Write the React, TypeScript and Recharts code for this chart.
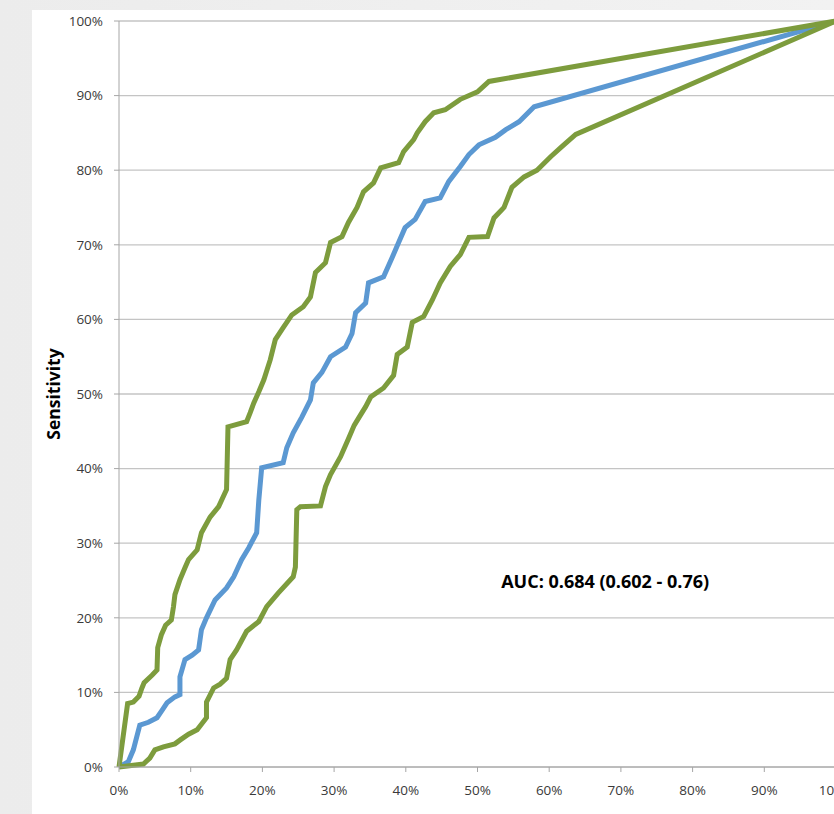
import { LineChart, Line, XAxis, YAxis, CartesianGrid, ReferenceDot } from "recharts"

// 1 - specificity (%) and sensitivity (%)
const upperFpr = [0, 1.2, 2.0, 2.8, 3.2, 3.5, 4.6, 5.3, 5.4, 5.9, 6.5, 7.3, 7.6, 7.8, 8.5, 9.2, 9.7, 10.9, 11.5, 12.7, 13.9, 15.0, 15.2, 17.8, 18.3, 18.8, 19.5, 20.2, 21.1, 21.8, 22.9, 24.1, 25.7, 26.7, 27.4, 28.8, 29.5, 31.1, 32.0, 33.2, 34.1, 35.5, 36.5, 39.0, 39.7, 41.1, 41.6, 42.7, 43.9, 45.5, 47.6, 50.0, 51.6, 100]
const upperTpr = [0, 8.5, 8.7, 9.5, 10.6, 11.3, 12.3, 13.0, 16.0, 17.7, 19.0, 19.7, 21.5, 23.1, 25.1, 26.7, 27.8, 29.1, 31.4, 33.5, 34.9, 37.2, 45.6, 46.3, 47.5, 48.8, 50.3, 51.9, 54.6, 57.3, 58.9, 60.6, 61.7, 63.0, 66.3, 67.6, 70.3, 71.1, 73.0, 75.0, 77.1, 78.3, 80.3, 81.0, 82.5, 84.1, 85.0, 86.5, 87.7, 88.1, 89.5, 90.5, 91.9, 100]

const rocFpr = [0, 1.3, 2.0, 2.9, 4.1, 5.3, 6.0, 6.7, 7.8, 8.5, 8.5, 9.2, 10.2, 11.1, 11.5, 12.2, 13.4, 15.0, 16.0, 17.1, 18.1, 19.2, 19.5, 19.9, 22.9, 23.4, 24.3, 25.5, 26.7, 27.1, 28.3, 29.5, 31.6, 32.5, 33.0, 34.4, 34.8, 36.9, 38.1, 39.0, 39.9, 41.3, 42.7, 44.8, 46.0, 47.6, 48.8, 50.2, 52.5, 53.9, 55.8, 57.9, 100]
const rocTpr = [0, 0.7, 2.3, 5.6, 6.0, 6.6, 7.6, 8.6, 9.4, 9.7, 12.1, 14.4, 15.0, 15.7, 18.4, 20.0, 22.4, 24.0, 25.5, 27.8, 29.4, 31.4, 35.8, 40.1, 40.8, 42.8, 44.8, 46.9, 49.2, 51.5, 52.9, 55.0, 56.3, 58.1, 60.9, 62.2, 64.9, 65.7, 68.3, 70.3, 72.3, 73.4, 75.8, 76.3, 78.5, 80.5, 82.1, 83.4, 84.4, 85.4, 86.5, 88.5, 100]

const lowerFpr = [0, 3.4, 4.3, 5.0, 6.2, 7.8, 8.5, 9.7, 10.9, 12.2, 12.2, 13.2, 14.1, 15.0, 15.5, 16.4, 17.8, 19.5, 20.6, 22.2, 24.3, 24.6, 24.8, 25.3, 28.1, 28.8, 29.5, 30.9, 32.0, 32.8, 33.5, 34.4, 35.1, 36.9, 38.3, 38.8, 40.2, 40.9, 42.5, 43.7, 44.8, 46.2, 47.6, 48.8, 51.4, 52.3, 53.7, 54.8, 56.5, 58.3, 60.2, 61.8, 63.7, 100]
const lowerTpr = [0, 0.4, 1.2, 2.3, 2.7, 3.1, 3.6, 4.4, 5.0, 6.6, 8.7, 10.6, 11.1, 11.9, 14.4, 15.7, 18.2, 19.5, 21.5, 23.3, 25.5, 26.8, 34.5, 34.9, 35.0, 37.6, 39.2, 41.6, 44.0, 45.8, 46.9, 48.3, 49.6, 50.8, 52.5, 55.3, 56.3, 59.6, 60.4, 62.6, 64.9, 67.1, 68.7, 71.0, 71.1, 73.6, 75.0, 77.7, 79.1, 80.0, 81.8, 83.2, 84.8, 100]

const pctTicks = [0, 10, 20, 30, 40, 50, 60, 70, 80, 90, 100]
const aucText = "AUC: 0.684 (0.602 - 0.76)"

const toPoints = (xs: number[], ys: number[]) => xs.map((x, i) => ({ x, y: ys[i] }))

const upper = toPoints(upperFpr, upperTpr)
const roc = toPoints(rocFpr, rocTpr)
const lower = toPoints(lowerFpr, lowerTpr)

const font = "'Open Sans', 'Liberation Sans', sans-serif"
const tickStyle = { fill: "#3a3a3a", fontSize: 13.5, fontFamily: font }

export default function App() {
  return (
    <div
      style={{
        position: "fixed",
        left: 0,
        top: 0,
        width: 834,
        height: 814,
        overflow: "hidden",
        background: "linear-gradient(to right, #ececec, #f2f2f2)",
      }}
    >
      {/* white slide panel behind the chart */}
      <div style={{ position: "absolute", left: 32, top: 10, width: 810, height: 810, background: "#ffffff" }} />
      <div style={{ position: "absolute", left: 0, top: 0 }}>
        <LineChart width={860} height={830} margin={{ top: 21, right: 24, left: 0, bottom: 0 }}>
          <CartesianGrid vertical={false} stroke="#c4c4c4" strokeWidth={1.3} />
          <XAxis
            type="number"
            dataKey="x"
            domain={[0, 100]}
            ticks={pctTicks}
            tickFormatter={(v) => `${v}%`}
            tick={tickStyle}
            tickSize={5}
            tickMargin={13}
            height={63}
            stroke="#a6a6a6"
            label={{
              value: "1 - Specificity",
              position: "insideBottom",
              offset: 3,
              fill: "#000",
              fontSize: 16,
              fontWeight: 700,
              fontFamily: font,
            }}
          />
          <YAxis
            type="number"
            dataKey="y"
            domain={[0, 100]}
            ticks={pctTicks}
            tickFormatter={(v) => `${v}%`}
            tick={tickStyle}
            tickSize={5}
            tickMargin={11}
            width={119}
            stroke="#a6a6a6"
            label={{
              value: "Sensitivity",
              angle: -90,
              position: "insideLeft",
              offset: 54,
              fill: "#000",
              fontSize: 17.5,
              fontWeight: 700,
              fontFamily: font,
              style: { textAnchor: "middle" },
            }}
          />
          <Line data={roc} dataKey="y" type="linear" stroke="#5b98d2" strokeWidth={5} dot={false} isAnimationActive={false} />
          <Line data={upper} dataKey="y" type="linear" stroke="#7d9c3d" strokeWidth={5} dot={false} isAnimationActive={false} />
          <Line data={lower} dataKey="y" type="linear" stroke="#7d9c3d" strokeWidth={5} dot={false} isAnimationActive={false} />
          <ReferenceDot
            x={53.3}
            y={24.8}
            r={0}
            stroke="none"
            fill="none"
            label={{
              value: aucText,
              position: "right",
              offset: 0,
              fill: "#000",
              fontSize: 18,
              fontWeight: 700,
              fontFamily: font,
            }}
          />
        </LineChart>
      </div>
    </div>
  )
}
